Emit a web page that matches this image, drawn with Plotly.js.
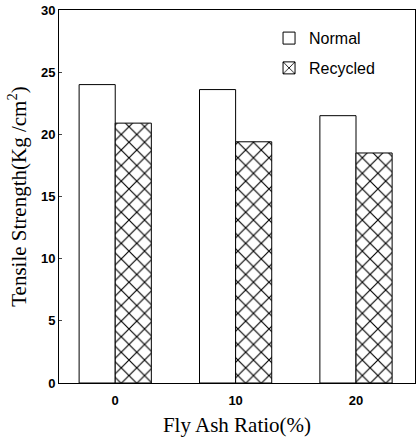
<!DOCTYPE html>
<html><head><meta charset="utf-8">
<script src="https://cdn.plot.ly/plotly-3.0.1.min.js"></script>
<style>html,body{margin:0;padding:0;background:#fff}#chart{width:417px;height:440px}</style>
</head><body><div id="chart"></div>
<script>
const categories = ["0", "10", "20"];
const normalValues = [24.0, 23.6, 21.5];
const recycledValues = [20.9, 19.4, 18.5];
const yTicks = [0, 5, 10, 15, 20, 25, 30];

const traces = [
  {type: "bar", name: "Normal", legendgroup: "g1", x: categories, y: normalValues,
   marker: {color: "#ffffff", line: {color: "#000", width: 1}}},
  {type: "bar", name: "Recycled", legendgroup: "g2", x: categories, y: recycledValues,
   marker: {color: "#ffffff", line: {color: "#000", width: 1},
            pattern: {shape: "x", fgcolor: "#000", bgcolor: "#fff", size: 11, solidity: 0.2}}}
];
const layout = {
  width: 417, height: 440,
  margin: {l: 59, r: 2, t: 10, b: 57},
  paper_bgcolor: "#fff", plot_bgcolor: "#fff",
  barmode: "group", bargap: 0.4, bargroupgap: 0,
  showlegend: true,
  legend: {x: 0.59, y: 0.97, xanchor: "left", yanchor: "top", bgcolor: "rgba(0,0,0,0)",
           font: {family: "Liberation Sans, Arial, sans-serif", size: 16, color: "#000"},
           itemwidth: 30, tracegroupgap: 6},
  xaxis: {type: "category", range: [-0.467, 2.49], showline: true, mirror: true, linecolor: "#000", linewidth: 1,
          ticks: "outside", ticklen: 5, tickcolor: "rgba(0,0,0,0)", showgrid: false, zeroline: false,
          tickfont: {family: "Liberation Sans, Arial, sans-serif", size: 13, color: "#000", weight: "bold"},
          title: {text: "Fly Ash Ratio(%)", standoff: 10,
                  font: {family: "Liberation Serif, Times New Roman, serif", size: 21, color: "#000"}}},
  yaxis: {range: [0, 30], tickvals: yTicks, showline: true, mirror: true, linecolor: "#000", linewidth: 1,
          ticks: "inside", ticklen: 3, showgrid: false, zeroline: false,
          tickfont: {family: "Liberation Sans, Arial, sans-serif", size: 13, color: "#000", weight: "bold"},
          title: {text: "Tensile Strength(Kg /cm<sup>2</sup>)", standoff: 8,
                  font: {family: "Liberation Serif, Times New Roman, serif", size: 21, color: "#000"}}}
};
Plotly.newPlot("chart", traces, layout, {displayModeBar: false, staticPlot: true});
</script></body></html>
